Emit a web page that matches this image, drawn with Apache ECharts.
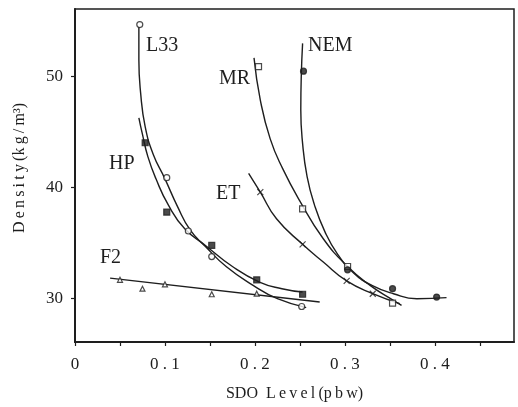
<!DOCTYPE html>
<html><head><meta charset="utf-8">
<script src="https://cdn.jsdelivr.net/npm/echarts@6/dist/echarts.min.js"></script>
<style>html,body{margin:0;padding:0;background:#fff}#c{width:518px;height:407px}</style>
</head><body><div id="c"></div>
<script>
// ---- axis ticks / labels ----
const xTickValues = [0, 0.05, 0.1, 0.15, 0.2, 0.25, 0.3, 0.35, 0.4, 0.45];
const xLabelValues = [0, 0.1, 0.2, 0.3, 0.4];
const yLabelValues = [30, 40, 50];
const xRange = [0, 0.488];
const yRange = [26.1, 56.1];

// ---- fitted curves ----
const L33Curve = [[0.071,54.5],[0.071,51.5],[0.073,48.5],[0.078,45.5],[0.087,43.0],[0.100,40.8],[0.114,38.3],[0.128,36.2],[0.145,34.7],[0.168,32.9],[0.198,31.2],[0.225,30.0],[0.257,29.2]];
const HPCurve = [[0.071,46.3],[0.075,44.8],[0.081,42.8],[0.090,40.8],[0.104,38.4],[0.122,36.3],[0.145,34.8],[0.175,32.9],[0.205,31.5],[0.230,30.9],[0.253,30.6]];
const F2Line = [[0.039,31.85],[0.272,29.7]];
const MRCurve = [[0.199,51.7],[0.206,47.9],[0.217,44.4],[0.231,41.7],[0.250,38.8],[0.276,35.4],[0.303,32.9],[0.328,31.2],[0.353,29.9],[0.363,29.4]];
const NEMCurve = [[0.253,53.0],[0.2515,50.0],[0.251,47.0],[0.253,44.0],[0.258,41.0],[0.266,38.5],[0.278,36.0],[0.292,34.0],[0.310,32.3],[0.330,31.2],[0.354,30.45],[0.380,30.0],[0.413,30.1]];
const ETCurve = [[0.193,41.3],[0.206,39.6],[0.224,37.2],[0.253,34.9],[0.276,33.3],[0.302,31.6],[0.331,30.45],[0.361,29.55]];

// ---- measured points ----
const L33Pts = [[0.072,54.7],[0.102,40.9],[0.126,36.1],[0.152,33.8],[0.252,29.3]];
const HPPts = [[0.078,44.05],[0.102,37.8],[0.152,34.8],[0.202,31.7],[0.253,30.4]];
const F2Pts = [[0.05,31.7],[0.075,30.9],[0.10,31.3],[0.152,30.4],[0.202,30.45]];
const MRPts = [[0.204,50.9],[0.253,38.1],[0.303,32.9],[0.353,29.6]];
const NEMPts = [[0.254,50.5],[0.303,32.6],[0.353,30.9],[0.402,30.15]];
const ETPts = [[0.206,39.6],[0.253,34.9],[0.302,31.6],[0.331,30.45]];

const seriesNames = ['L33','HP','F2','MR','NEM','ET'];
const xTitle = 'SDO  L\u2009e\u2009v\u2009e\u2009l\u2009(p\u2009b\u2009w)';
const yTitle = 'D\u2009e\u2009n\u2009s\u2009i\u2009t\u2009y\u2009(k\u2009g\u2009/\u2009m³)';

const ink = '#1e1e1e';
const serif = "'Liberation Serif','DejaVu Serif',serif";
function curve(data){return {type:'line',data:data,smooth:0.5,showSymbol:false,symbol:'none',lineStyle:{color:ink,width:1.4},z:2};}
function pts(data,symbol,size,filled){return {type:'scatter',data:data,symbol:symbol,symbolSize:size,
  itemStyle:{color: filled?ink:'#fff',borderColor:ink,borderWidth:1.2},z:3};}
function lbl(i,left,top){return {type:'text',left:left,top:top,style:{text:seriesNames[i],font:'20px '+serif,fill:ink}};}

const chart = echarts.init(document.getElementById('c'));
chart.setOption({
  animation:false,
  backgroundColor:'#fff',
  grid:{left:75,top:9,right:4,bottom:64,show:true,borderColor:ink,borderWidth:1.5,backgroundColor:'transparent'},
  xAxis:{type:'value',min:xRange[0],max:xRange[1],
    axisLine:{show:true,lineStyle:{color:ink,width:2}},
    splitLine:{show:false},
    axisTick:{show:true,customValues:xTickValues,length:4,lineStyle:{color:ink,width:1.2}},
    axisLabel:{customValues:xLabelValues,margin:14,color:ink,fontFamily:serif,fontSize:17,
      formatter:v=> v===0?'0':v.toFixed(1).split('').join(' ')},
    name:xTitle,nameLocation:'middle',nameGap:44,
    nameTextStyle:{color:ink,fontFamily:serif,fontSize:16}
  },
  yAxis:{type:'value',min:yRange[0],max:yRange[1],
    axisLine:{show:true,lineStyle:{color:ink,width:2}},
    splitLine:{show:false},
    axisTick:{show:true,customValues:yLabelValues,length:4,lineStyle:{color:ink,width:1.2}},
    axisLabel:{customValues:yLabelValues,margin:12,color:ink,fontFamily:serif,fontSize:17}
  },
  graphic:[
    lbl(0,146,36), lbl(1,109,154), lbl(2,100,248), lbl(3,219,69), lbl(4,308,36), lbl(5,216,184),
    {type:'text',x:20,y:168,rotation:Math.PI/2,
      style:{text:yTitle,align:'center',verticalAlign:'middle',font:'16px '+serif,fill:ink}}
  ],
  series:[
    curve(L33Curve), curve(HPCurve), {type:'line',data:F2Line,showSymbol:false,symbol:'none',lineStyle:{color:ink,width:1.4}},
    curve(MRCurve), curve(NEMCurve), curve(ETCurve),
    pts(L33Pts,'circle',6,false),
    pts(HPPts,'rect',6,true),
    pts(F2Pts,'triangle',5,false),
    pts(MRPts,'rect',6,false),
    pts(NEMPts,'circle',6,true),
    {type:'scatter',data:ETPts,symbol:'path://M0,0L10,10M10,0L0,10',symbolSize:6,
      itemStyle:{color:'none',borderColor:ink,borderWidth:1.2},z:3}
  ]
});
</script></body></html>
